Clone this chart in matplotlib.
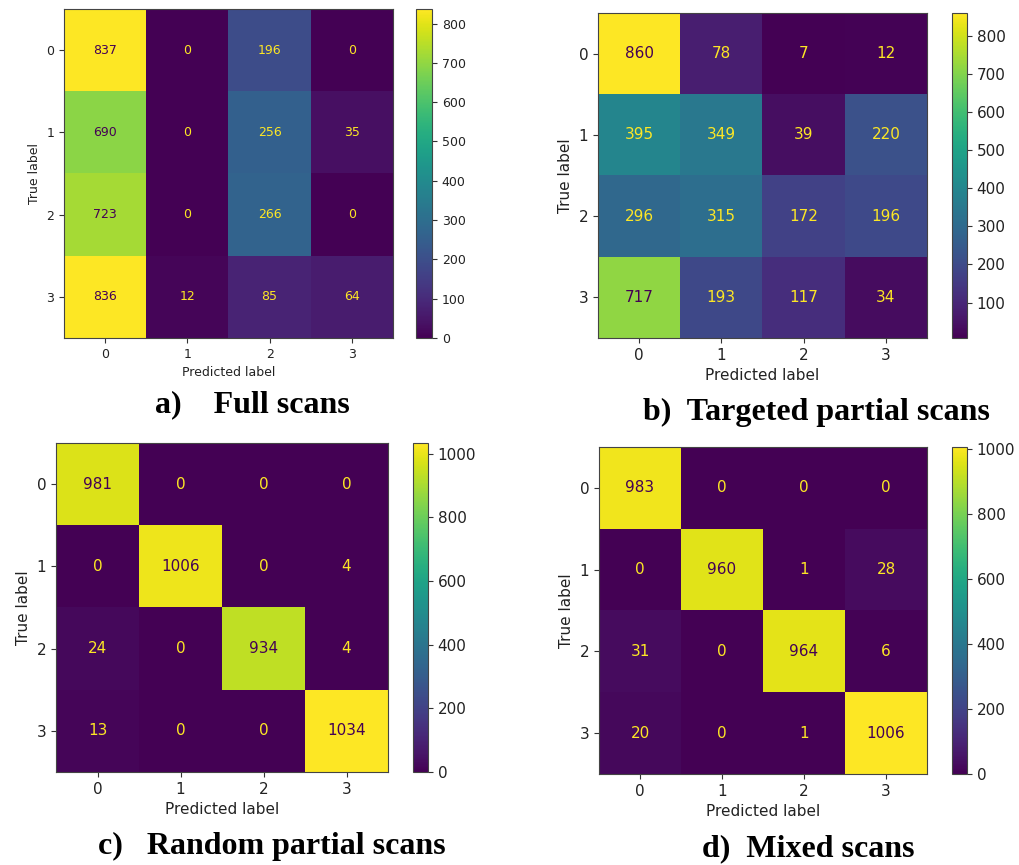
import numpy as np
import matplotlib
matplotlib.use("Agg")
import matplotlib.pyplot as plt
from matplotlib.ticker import MultipleLocator

labels = ["0", "1", "2", "3"]

cm_full = [[837, 0, 196, 0],
           [690, 0, 256, 35],
           [723, 0, 266, 0],
           [836, 12, 85, 64]]
cm_targeted = [[860, 78, 7, 12],
               [395, 349, 39, 220],
               [296, 315, 172, 196],
               [717, 193, 117, 34]]
cm_random = [[981, 0, 0, 0],
             [0, 1006, 0, 4],
             [24, 0, 934, 4],
             [13, 0, 0, 1034]]
cm_mixed = [[983, 0, 0, 0],
            [0, 960, 1, 28],
            [31, 0, 964, 6],
            [20, 0, 1, 1006]]

captions = ["a)    Full scans", "b)  Targeted partial scans",
            "c)   Random partial scans", "d)  Mixed scans"]

W, H = 1019, 865
fig = plt.figure(figsize=(W / 100, H / 100), dpi=100)


def frac(l, t, r, b):
    return [l / W, 1 - b / H, (r - l) / W, (b - t) / H]


panels = [
    dict(cm=cm_full, ax=(64, 9, 393, 338), cax=(416, 9, 432, 338), fs=9, step=100,
         cap=captions[0], capx=252, capy=405),
    dict(cm=cm_targeted, ax=(598, 13, 927, 338), cax=(952, 13, 967, 338), fs=11, step=100,
         cap=captions[1], capx=816, capy=412),
    dict(cm=cm_random, ax=(56, 443, 388, 772), cax=(413, 443, 428, 772), fs=11, step=200,
         cap=captions[2], capx=272, capy=846),
    dict(cm=cm_mixed, ax=(599, 447, 927, 774), cax=(952, 447, 967, 774), fs=11, step=200,
         cap=captions[3], capx=808, capy=849),
]

cmap = plt.get_cmap("viridis")
for p in panels:
    data = np.array(p["cm"])
    ax = fig.add_axes(frac(*p["ax"]))
    cax = fig.add_axes(frac(*p["cax"]))
    vmin, vmax = data.min(), data.max()
    im = ax.imshow(data, cmap=cmap, vmin=vmin, vmax=vmax, aspect="auto",
                   interpolation="nearest")
    thresh = (vmin + vmax) / 2.0
    for i in range(data.shape[0]):
        for j in range(data.shape[1]):
            v = data[i, j]
            color = cmap(0.0) if v >= thresh else cmap(1.0)
            ax.text(j, i, str(v), ha="center", va="center", color=color,
                    fontsize=p["fs"])
    ax.set_xticks(range(len(labels)))
    ax.set_xticklabels(labels)
    ax.set_yticks(range(len(labels)))
    ax.set_yticklabels(labels)
    ax.tick_params(labelsize=p["fs"], colors="#333333", labelcolor="#222222")
    ax.set_xlabel("Predicted label", fontsize=p["fs"], color="#222222")
    ax.set_ylabel("True label", fontsize=p["fs"], color="#222222")
    for s in ax.spines.values():
        s.set_color("#444444")
    cb = fig.colorbar(im, cax=cax)
    cb.locator = MultipleLocator(p["step"])
    cb.update_ticks()
    cax.tick_params(labelsize=p["fs"], colors="#333333", labelcolor="#222222")
    cb.outline.set_edgecolor("#444444")
    fig.text(p["capx"] / W, 1 - p["capy"] / H, p["cap"], ha="center", va="center",
             fontsize=23, fontweight="bold", family="Liberation Serif")

fig.savefig("out.png", dpi=100)
